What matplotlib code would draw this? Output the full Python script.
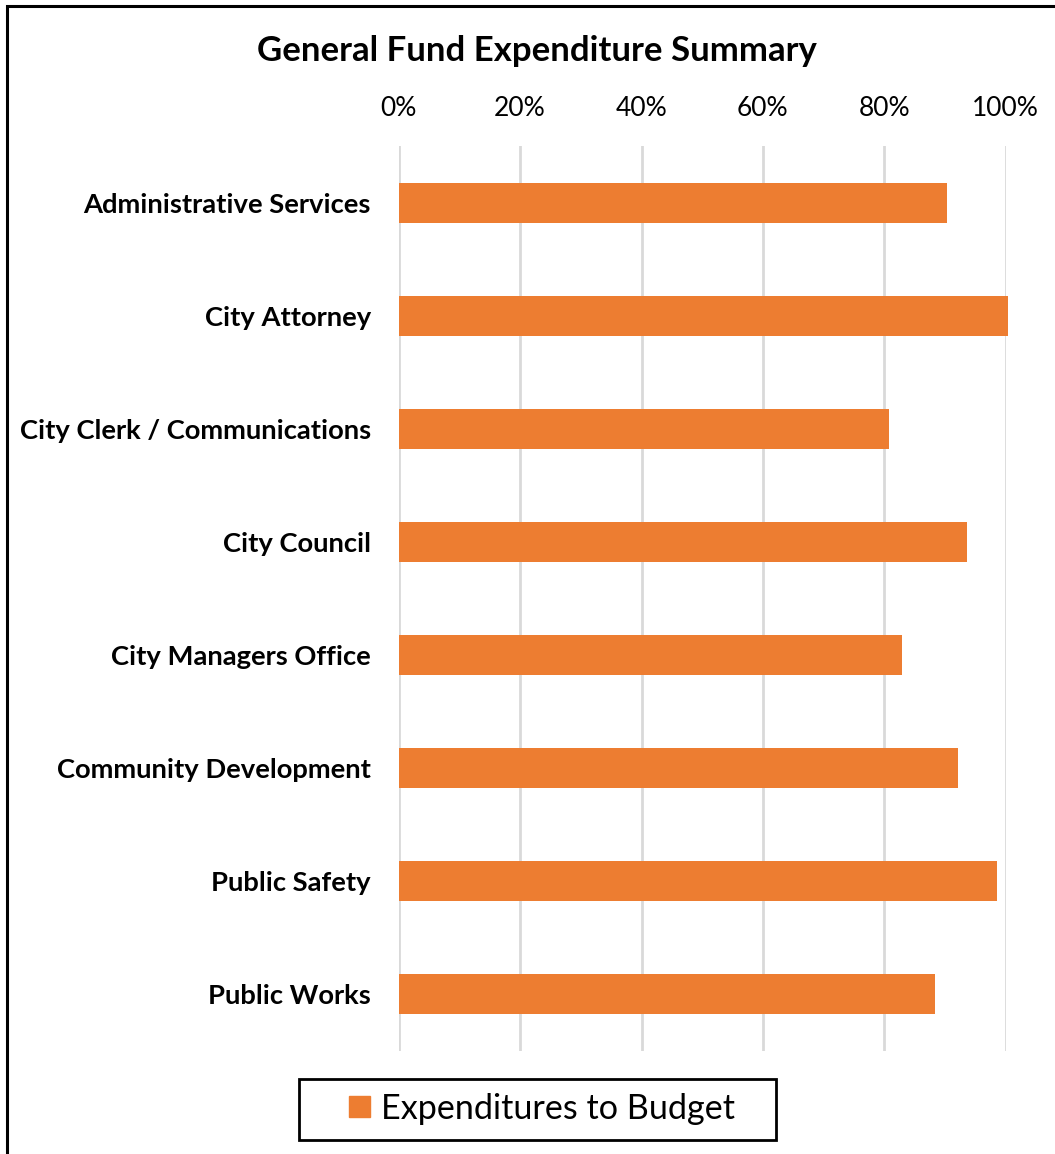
import matplotlib.pyplot as plt
from matplotlib.patches import Rectangle, Patch
from matplotlib.ticker import PercentFormatter

departments = ['Administrative Services', 'City Attorney', 'City Clerk / Communications',
               'City Council', 'City Managers Office', 'Community Development',
               'Public Safety', 'Public Works']
pct_to_budget = [0.903, 1.003, 0.808, 0.937, 0.829, 0.921, 0.986, 0.883]

orange = '#ED7D31'
plt.rcParams['font.family'] = ['Lato', 'DejaVu Sans']

fig = plt.figure(figsize=(10.55, 11.54), dpi=100)
ax = fig.add_axes([0.3779, 0.0893, 0.5754, 0.7842])

ypos = list(range(len(departments)))
ax.barh(ypos, pct_to_budget, height=0.353, color=orange, clip_on=False, zorder=3,
        label='Expenditures to Budget')
ax.set_ylim(len(departments) - 0.5, -0.5)
ax.set_yticks(ypos)
ax.set_yticklabels(departments, fontsize=19.7, fontweight='bold')
ax.set_xlim(0, 1.0)
ax.set_xticks([0, 0.2, 0.4, 0.6, 0.8, 1.0])
ax.xaxis.set_major_formatter(PercentFormatter(1.0, decimals=0))
ax.xaxis.tick_top()
ax.tick_params(axis='x', labelsize=19, length=0, pad=18)
ax.tick_params(axis='y', length=0, pad=20)
ax.grid(axis='x', color='#D9D9D9', linewidth=2, zorder=0)
for s in ax.spines.values():
    s.set_visible(False)

fig.text(0.509, 0.956, 'General Fund Expenditure Summary', ha='center', va='center',
         fontsize=25, fontweight='bold')

# legend: box drawn separately so padding can match
fig.patches.append(Rectangle((299 / 1055, 1 - 1140 / 1154), 477 / 1055, 61 / 1154,
                             transform=fig.transFigure, fill=False, edgecolor='black',
                             linewidth=2))
fig.legend(handles=[Patch(color=orange, label='Expenditures to Budget')],
           loc='center', bbox_to_anchor=(0.514, 0.0394), fontsize=24.6,
           frameon=False, handlelength=0.6, handleheight=0.6, handletextpad=0.35,
           borderpad=0, borderaxespad=0)

fig.patches.append(Rectangle((7 / 1055, -0.1), 1.2, 1.1 - 5.5 / 1154, transform=fig.transFigure,
                             fill=False, edgecolor='black', linewidth=2.2))

fig.savefig('out.png', dpi=100)
